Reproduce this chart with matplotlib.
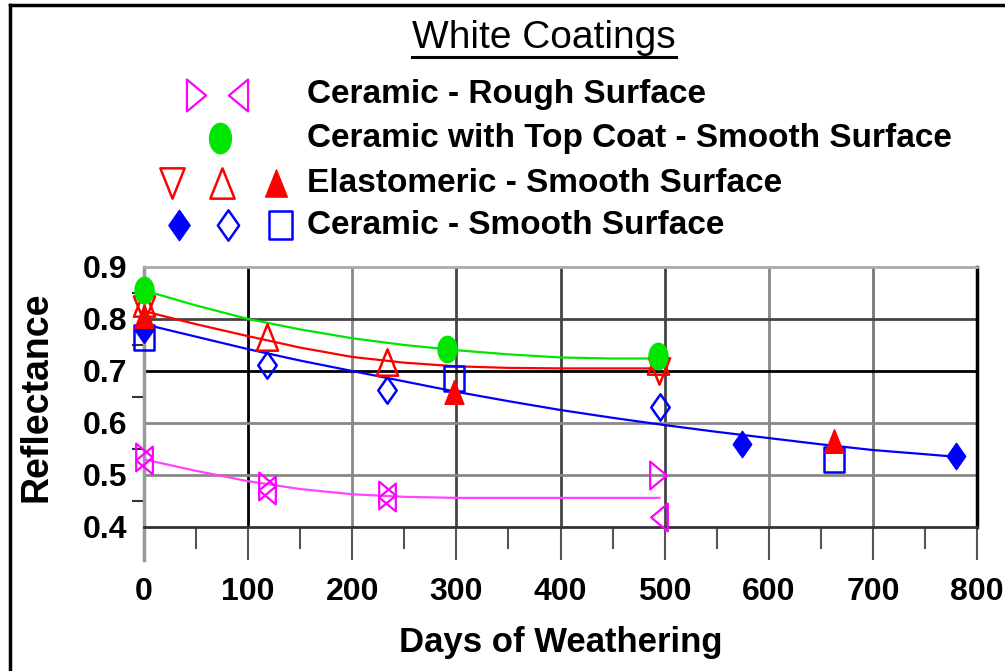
import matplotlib
matplotlib.use('Agg')
import matplotlib.pyplot as plt
from matplotlib.path import Path
from matplotlib.transforms import Affine2D
from matplotlib.lines import Line2D

plt.rcParams['font.family'] = ['Liberation Sans', 'DejaVu Sans']

# --- datos ---
rough_right_days = [0, 118, 233, 494]
rough_right_refl = [0.535, 0.479, 0.461, 0.50]
rough_left_days = [0, 118, 233, 495]
rough_left_refl = [0.528, 0.472, 0.457, 0.42]

topcoat_days = [0, 291, 494]
topcoat_refl = [0.856, 0.742, 0.729]

elast_down_days = [0, 495]
elast_down_refl = [0.82, 0.70]
elast_up_days = [0, 118, 233, 494]
elast_up_refl = [0.83, 0.765, 0.717, 0.72]
elast_fill_days = [0, 298, 663]
elast_fill_refl = [0.805, 0.66, 0.565]

smooth_fill_days = [0, 574, 780]
smooth_fill_refl = [0.785, 0.56, 0.537]
smooth_open_days = [0, 118, 233, 496]
smooth_open_refl = [0.78, 0.712, 0.663, 0.63]
smooth_sq_days = [0, 298, 663]
smooth_sq_refl = [0.765, 0.687, 0.53]

# curvas de tendencia
curve_days = [0, 50, 100, 150, 200, 250, 300, 350, 400, 450, 495]
rough_curve = [0.53, 0.508, 0.488, 0.473, 0.463, 0.458, 0.456, 0.456, 0.456, 0.456, 0.456]
topcoat_curve = [0.855, 0.826, 0.80, 0.78, 0.763, 0.75, 0.74, 0.732, 0.726, 0.724, 0.724]
elast_curve = [0.815, 0.79, 0.767, 0.745, 0.727, 0.716, 0.709, 0.706, 0.705, 0.705, 0.705]
smooth_curve_days = [0, 50, 100, 150, 200, 250, 300, 350, 400, 450, 500,
                     550, 600, 650, 700, 750, 780]
smooth_curve = [0.79, 0.766, 0.742, 0.72, 0.70, 0.68, 0.66, 0.642, 0.625, 0.61,
                0.596, 0.583, 0.571, 0.559, 0.548, 0.54, 0.535]

x_ticks = [0, 100, 200, 300, 400, 500, 600, 700, 800]
y_ticks = [0.4, 0.5, 0.6, 0.7, 0.8, 0.9]
legend_labels = ['Ceramic - Rough Surface',
                 'Ceramic with Top Coat - Smooth Surface',
                 'Elastomeric - Smooth Surface',
                 'Ceramic - Smooth Surface']

MAG, GRN, RED, BLU = '#ff00ff', '#00e600', '#ff0000', '#0000ff'


def mk(verts):
    return Path(verts + [verts[0]], closed=True)


tri_right = mk([(-0.6, 1), (0.6, 0), (-0.6, -1)])
tri_left = mk([(0.6, 1), (-0.6, 0), (0.6, -1)])
tri_up = mk([(0, 1), (-0.8, -1), (0.8, -1)])
tri_down = mk([(0, -1), (-0.8, 1), (0.8, 1)])
diamond = mk([(0, 1), (0.7, 0), (0, -1), (-0.7, 0)])
rect = mk([(-0.8, -1), (0.8, -1), (0.8, 1), (-0.8, 1)])
ellipse = Path.unit_circle().transformed(Affine2D().scale(0.72, 1.0))

styles = {
    'rr': dict(marker=tri_right, ms=20, mfc='none', mec=MAG, mew=1.6),
    'rl': dict(marker=tri_left, ms=20, mfc='none', mec=MAG, mew=1.6),
    'tc': dict(marker=ellipse, ms=19, mfc=GRN, mec=GRN, mew=1),
    'ed': dict(marker=tri_down, ms=19, mfc='none', mec=RED, mew=1.8),
    'eu': dict(marker=tri_up, ms=19, mfc='none', mec=RED, mew=1.8),
    'ef': dict(marker=tri_up, ms=17, mfc=RED, mec=RED, mew=1),
    'sf': dict(marker=diamond, ms=19, mfc=BLU, mec=BLU, mew=1),
    'so': dict(marker=diamond, ms=19, mfc='none', mec=BLU, mew=1.8),
    'sq': dict(marker=rect, ms=18, mfc='none', mec=BLU, mew=1.8),
}

fig = plt.figure(figsize=(10.05, 6.71), dpi=100)
ax = fig.add_axes([144 / 1005, 1 - 527 / 671, 833 / 1005, 260 / 671])

ax.plot(curve_days, rough_curve, color='#ff44ff', lw=1.6, zorder=3)
ax.plot(curve_days, topcoat_curve, color=GRN, lw=1.6, zorder=3)
ax.plot(curve_days, elast_curve, color=RED, lw=1.6, zorder=3)
ax.plot(smooth_curve_days, smooth_curve, color=BLU, lw=1.6, zorder=3)

series = [
    (rough_right_days, rough_right_refl, 'rr'),
    (rough_left_days, rough_left_refl, 'rl'),
    (smooth_sq_days, smooth_sq_refl, 'sq'),
    (smooth_open_days, smooth_open_refl, 'so'),
    (smooth_fill_days, smooth_fill_refl, 'sf'),
    (elast_fill_days, elast_fill_refl, 'ef'),
    (elast_down_days, elast_down_refl, 'ed'),
    (elast_up_days, elast_up_refl, 'eu'),
    (topcoat_days, topcoat_refl, 'tc'),
]
for xs, ys, key in series:
    ax.plot(xs, ys, ls='none', zorder=4, clip_on=False, **styles[key])

ax.set_xlim(0, 800)
ax.set_ylim(0.4, 0.9)
ax.set_xticks(x_ticks)
ax.set_xticks([50, 150, 250, 350, 450, 550, 650, 750], minor=True)
ax.set_yticks(y_ticks)
ax.set_yticks([0.45, 0.55, 0.65, 0.75, 0.85], minor=True)
ax.set_xticklabels([str(v) for v in x_ticks])
ax.set_yticklabels([f'{v:.1f}' for v in y_ticks])

ax.tick_params(axis='x', which='major', direction='out', length=24, width=1.5,
               color='#555555', pad=12, labelsize=23)
ax.tick_params(axis='x', which='minor', direction='out', length=16, width=1.5,
               color='#555555')
ax.tick_params(axis='y', which='major', length=0, pad=12, labelsize=23)
ax.tick_params(axis='y', which='minor', direction='out', length=8.5, width=1.5,
               color='#333333')
for lbl in ax.get_xticklabels() + ax.get_yticklabels():
    lbl.set_fontweight('bold')

# rejilla
vcols = {100: '#000000', 200: '#888888', 300: '#444444', 400: '#444444',
         500: '#444444', 600: '#888888', 700: '#777777'}
hcols = {0.5: '#888888', 0.6: '#888888', 0.7: '#000000', 0.8: '#444444'}
for x, c in vcols.items():
    ax.axvline(x, color=c, lw=2, zorder=1)
for y, c in hcols.items():
    ax.axhline(y, color=c, lw=2, zorder=1)

ax.spines['top'].set_color('#aaaaaa')
ax.spines['top'].set_linewidth(2)
ax.spines['right'].set_color('black')
ax.spines['right'].set_linewidth(2.5)
ax.spines['bottom'].set_color('#333333')
ax.spines['bottom'].set_linewidth(2)
ax.spines['left'].set_visible(False)
ax.add_line(Line2D([0, 0], [-0.127, 1], transform=ax.transAxes, color='#999999',
                   lw=2.5, clip_on=False, zorder=2))

ax.set_xlabel('Days of Weathering', fontsize=25, fontweight='bold', labelpad=14)
ax.set_ylabel('Reflectance', fontsize=27, fontweight='bold', labelpad=20)

# título subrayado
title = fig.text(544 / 1005, 1 - 38 / 671, 'White Coatings', ha='center', va='center',
                 fontsize=28)

# leyenda manual (símbolos algo mayores que en el gráfico)
lax = fig.add_axes([0, 0, 1, 1], facecolor='none')
lax.set_xlim(0, 1005)
lax.set_ylim(671, 0)
lax.axis('off')
legend_rows = [
    (95, [('rr', 196), ('rl', 238)]),
    (138, [('tc', 220)]),
    (183, [('ed', 172), ('eu', 222), ('ef', 276)]),
    (225, [('sf', 179), ('so', 228), ('sq', 280)]),
]
for (ypix, marks), label in zip(legend_rows, legend_labels):
    for key, xpix in marks:
        st = dict(styles[key])
        st['ms'] = st['ms'] * 1.15
        lax.plot([xpix], [ypix], ls='none', **st)
    lax.text(307, ypix, label, ha='left', va='center', fontsize=24, fontweight='bold')

# marco exterior
lax.plot([10, 1005], [5, 5], color='black', lw=2.5, clip_on=False)
lax.plot([10, 10], [5, 671], color='black', lw=2.5, clip_on=False)

fig.canvas.draw()
bb = title.get_window_extent().transformed(lax.transData.inverted())
lax.plot([bb.x0, bb.x1], [57, 57], color='black', lw=2.2)

fig.savefig('out.png', dpi=100)
